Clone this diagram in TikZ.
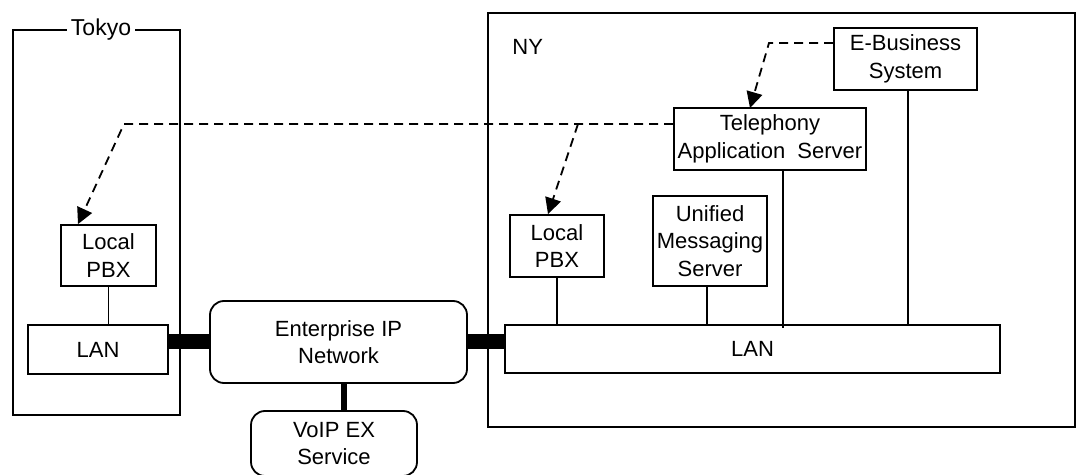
\documentclass[tikz,border=0pt]{standalone}
\usepackage{fontspec}
\setmainfont{Liberation Sans}
\usetikzlibrary{arrows.meta}
\begin{document}
\begin{tikzpicture}[x=0.5pt,y=-0.5pt,
  font=\fontsize{11pt}{13.8pt}\selectfont,
  every node/.style={align=center,inner sep=0pt},
  box/.style={draw,line width=0.9pt,fill=white},
  rbox/.style={box,rounded corners=7pt},
  site/.style={line width=0.9pt},
  link/.style={line width=0.9pt},
  trunk/.style={line width=7.5pt},
  spur/.style={line width=3.2pt},
  flow/.style={line width=0.9pt,dash pattern=on 4.5pt off 3pt,
    -{Triangle[length=8pt,width=8pt]}}]
\useasboundingbox (0,0) rectangle (1081,475);

% sites
\draw[site] (13,30) rectangle (180,415);
\node[fill=white,inner xsep=2pt,font=\fontsize{11.5pt}{13.8pt}\selectfont] (tokyo) at (101,30) {Tokyo};
\draw[site] (488,13) rectangle (1075,427);
\node[anchor=west] (ny) at (512,47) {NY};

% Tokyo equipment
\node[box,minimum width=47.5pt,minimum height=30.5pt] (tpbx) at (108.5,255.5) {Local\\PBX};
\node[box,minimum width=70pt,minimum height=24.5pt] (tlan) at (98,349.5) {LAN};

% WAN
\node[rbox,minimum width=128.5pt,minimum height=41pt] (ent) at (338.5,342) {Enterprise IP\\Network};
\node[rbox,minimum width=83pt,minimum height=32.5pt] (voip) at (334,443.5) {VoIP EX\\Service};

% NY equipment
\node[box,minimum width=71.5pt,minimum height=31pt] (ebs) at (905.5,59) {E-Business\\System};
\node[box,minimum width=96pt,minimum height=31pt] (tas) at (770,139) {Telephony\\Application\ \ Server};
\node[box,minimum width=57pt,minimum height=45pt] (ums) at (710,241) {Unified\\Messaging\\Server};
\node[box,minimum width=47pt,minimum height=31pt] (npbx) at (557,246) {Local\\PBX};
\node[box,minimum width=247.5pt,minimum height=24pt] (nlan) at (752.5,349) {LAN};

% thick WAN links
\draw[trunk] (tlan.east |- ent.west) -- (ent.west);
\draw[trunk] (ent.east) -- (nlan.west |- ent.east);
\coordinate (vx) at (344,0);
\draw[spur] (ent.south -| vx) -- (voip.north -| vx);

% LAN drops
\draw[link] (tpbx.south) -- (tpbx.south |- tlan.north);
\draw[link] (npbx.south) -- (npbx.south |- nlan.north);
\coordinate (ux) at (707,0);
\draw[link] (ums.south -| ux) -- (nlan.north -| ux);
\coordinate (tx) at (783,0);
\draw[link] (tas.south -| tx) -- ([yshift=-2]nlan.north -| tx);
\coordinate (ex) at (908,0);
\draw[link] (ebs.south -| ex) -- (nlan.north -| ex);

% signalling paths
\coordinate (ey) at (0,43);
\coordinate (ec) at (769,43);
\draw[flow] (ebs.west |- ey) -- (ec) -- (750,108) coordinate (tastop);
\coordinate (ty) at (0,124);
\coordinate (tc) at (124,124);
\coordinate (nc) at (578,124);
\draw[flow] (tas.west |- ty) -- (tc) -- (tpbx.north -| 78,0);
\draw[flow] (nc) -- (npbx.north -| 548,0);
\end{tikzpicture}
\end{document}
